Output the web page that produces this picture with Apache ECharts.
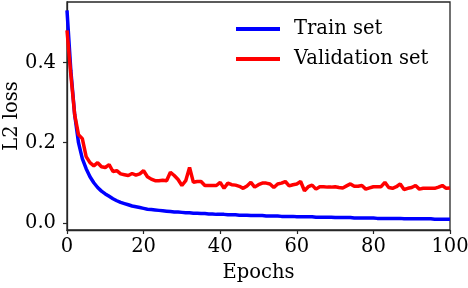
<!DOCTYPE html>
<html>
<head>
<meta charset="utf-8">
<script src="https://cdn.jsdelivr.net/npm/echarts@6/dist/echarts.min.js"></script>
<style>
html,body{margin:0;padding:0;background:#fff;}
#chart{width:468px;height:288px;}
</style>
</head>
<body>
<div id="chart"></div>
<script>
var epochs = [];
for (var i = 0; i <= 100; i++) epochs.push(i);

var trainLoss = [
0.530,0.380,0.270,0.200,0.160,0.135,0.115,0.100,0.088,0.079,
0.072,0.066,0.060,0.055,0.051,0.048,0.045,0.042,0.040,0.038,
0.036,0.034,0.033,0.032,0.031,0.030,0.029,0.028,0.027,0.027,
0.026,0.025,0.025,0.024,0.024,0.023,0.023,0.022,0.022,0.021,
0.021,0.021,0.020,0.020,0.020,0.019,0.019,0.019,0.018,0.018,
0.018,0.018,0.017,0.017,0.017,0.017,0.016,0.016,0.016,0.016,
0.015,0.015,0.015,0.015,0.015,0.014,0.014,0.014,0.014,0.014,
0.013,0.013,0.013,0.013,0.013,0.012,0.012,0.012,0.012,0.012,
0.012,0.011,0.011,0.011,0.011,0.011,0.011,0.011,0.010,0.010,
0.010,0.010,0.010,0.010,0.010,0.010,0.009,0.009,0.009,0.009,
0.009
];

var valLoss = [
0.480,0.370,0.270,0.220,0.210,0.165,0.150,0.142,0.150,0.140,
0.138,0.145,0.128,0.130,0.122,0.120,0.118,0.123,0.119,0.122,
0.130,0.115,0.109,0.105,0.105,0.106,0.105,0.126,0.118,0.108,
0.093,0.105,0.138,0.101,0.103,0.103,0.093,0.093,0.093,0.093,
0.101,0.086,0.099,0.095,0.094,0.091,0.086,0.092,0.101,0.089,
0.095,0.099,0.099,0.097,0.088,0.097,0.099,0.103,0.092,0.095,
0.097,0.103,0.080,0.090,0.094,0.084,0.090,0.090,0.089,0.089,
0.090,0.088,0.087,0.092,0.097,0.091,0.091,0.093,0.084,0.087,
0.090,0.090,0.090,0.101,0.088,0.086,0.090,0.097,0.083,0.086,
0.088,0.093,0.084,0.086,0.086,0.086,0.086,0.089,0.093,0.086,
0.087
];

var xTicks = [0, 20, 40, 60, 80, 100];
var yTicks = [0.0, 0.2, 0.4];
var seriesNames = ['Train set', 'Validation set'];

var FONT = 'DejaVu Serif';
var FS = 19.5;
var AX = '#262626';

function pair(xs, ys) { return xs.map(function (x, i) { return [x, ys[i]]; }); }

var chart = echarts.init(document.getElementById('chart'), null, {renderer: 'canvas'});
chart.setOption({
  animation: false,
  backgroundColor: '#ffffff',
  grid: {left: 67, right: 18, top: 2, bottom: 58, containLabel: false, outerBoundsMode: 'none', show: true, borderColor: AX, borderWidth: 1.3, backgroundColor: 'transparent'},
  legend: {
    orient: 'vertical',
    left: 236, top: 19, padding: 0,
    itemWidth: 44, itemHeight: 4, itemGap: 10,
    icon: 'rect',
    textStyle: {fontFamily: FONT, fontSize: FS, color: '#000', lineHeight: 20, padding: [0, 0, 0, 9]},
    data: seriesNames
  },
  xAxis: {
    type: 'value', min: 0, max: 100,
    name: 'Epochs', nameLocation: 'middle', nameGap: 33, nameMoveOverlap: false,
    nameTextStyle: {fontFamily: FONT, fontSize: FS, color: '#000'},
    axisLine: {show: true, onZero: false, lineStyle: {color: AX, width: 1.3}},
    axisTick: {show: true, length: 4, lineStyle: {color: AX, width: 1.2}, customValues: xTicks},
    axisLabel: {fontFamily: FONT, fontSize: FS, color: '#000', margin: 7, customValues: xTicks, formatter: function (v) { return String(v); }},
    splitLine: {show: false}
  },
  yAxis: {
    type: 'value', min: -0.018, max: 0.551,
    name: 'L2 loss', nameLocation: 'middle', nameGap: 45, nameRotate: 90, nameMoveOverlap: false,
    nameTextStyle: {fontFamily: FONT, fontSize: FS, color: '#000'},
    axisLine: {show: true, onZero: false, lineStyle: {color: AX, width: 1.3}},
    axisTick: {show: true, length: 4, lineStyle: {color: AX, width: 1.2}, customValues: yTicks},
    axisLabel: {fontFamily: FONT, fontSize: FS, color: '#000', margin: 11, customValues: yTicks, formatter: function (v) { return v.toFixed(1); }},
    splitLine: {show: false}
  },
  series: [
    {name: seriesNames[0], type: 'line', data: pair(epochs, trainLoss), showSymbol: false, symbol: 'none', lineStyle: {color: '#0000ff', width: 3.5}, itemStyle: {color: '#0000ff'}, z: 2},
    {name: seriesNames[1], type: 'line', data: pair(epochs, valLoss), showSymbol: false, symbol: 'none', lineStyle: {color: '#ff0000', width: 3.5}, itemStyle: {color: '#ff0000'}, z: 3}
  ]
});
</script>
</body>
</html>
